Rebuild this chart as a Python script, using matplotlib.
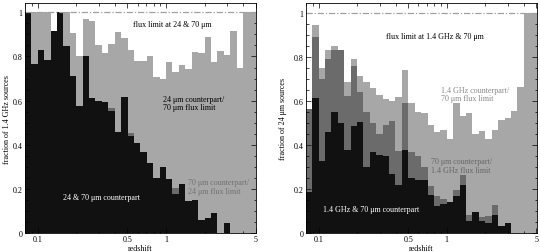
import numpy as np
import matplotlib
matplotlib.use('Agg')
import matplotlib.pyplot as plt
from matplotlib.ticker import FixedLocator, NullFormatter, MultipleLocator

plt.rcParams['font.family'] = ['Liberation Serif', 'DejaVu Serif']
plt.rcParams['font.size'] = 5.8

# log10(z) bin edges of the histograms (0.05 dex bins)
log_z_edges = np.linspace(-1.1, 0.7, 37)

# left panel: fraction of 1.4 GHz sources (cumulative tops of each layer)
left_both = [1.0, 0.766, 0.83, 0.786, 0.914, 1.0, 0.846, 0.71, 0.575, 0.80,
             0.61, 0.60, 0.595, 0.555, 0.457, 0.615, 0.44, 0.41, 0.37, 0.32,
             0.25, 0.30, 0.245, 0.18, 0.225, 0.145, 0.15, 0.06, 0.07, 0.09,
             0.0, 0.045, 0.0, 0.0, 0.0, 0.0]
left_70only = [1.0, 0.766, 0.83, 0.786, 0.914, 1.0, 0.846, 0.71, 0.575, 0.80,
               0.61, 0.60, 0.595, 0.565, 0.457, 0.615, 0.455, 0.41, 0.37, 0.32,
               0.25, 0.30, 0.245, 0.205, 0.225, 0.145, 0.15, 0.06, 0.07, 0.09,
               0.0, 0.045, 0.0, 0.0, 0.0, 0.0]
left_24only = [1.0, 1.0, 1.0, 1.0, 0.914, 1.0, 1.0, 0.906, 0.80, 0.97,
               0.96, 0.85, 0.816, 0.857, 0.909, 0.884, 0.83, 0.78, 0.78, 0.80,
               0.706, 0.698, 0.773, 0.728, 0.763, 0.743, 0.822, 0.818, 0.886, 0.777,
               0.826, 0.807, 0.915, 0.75, 1.0, 1.0]

# right panel: fraction of 24 um sources
right_both = [0.189, 0.613, 0.327, 0.458, 0.549, 0.501, 0.38, 0.486, 0.507, 0.30,
              0.37, 0.355, 0.35, 0.27, 0.22, 0.38, 0.25, 0.24, 0.24, 0.175,
              0.125, 0.135, 0.14, 0.17, 0.22, 0.055, 0.095, 0.055, 0.045, 0.085,
              0.035, 0.045, 0.0, 0.0, 0.0, 0.0]
right_70only = [0.564, 0.89, 0.70, 0.79, 0.834, 0.834, 0.625, 0.76, 0.643, 0.549,
                0.50, 0.451, 0.49, 0.51, 0.375, 0.59, 0.37, 0.35, 0.30, 0.215,
                0.17, 0.155, 0.14, 0.195, 0.265, 0.085, 0.095, 0.075, 0.08, 0.13,
                0.035, 0.045, 0.0, 0.0, 0.0, 0.0]
right_radioonly = [0.564, 0.945, 0.75, 0.83, 0.849, 0.834, 0.688, 0.79, 0.716, 0.685,
                   0.658, 0.628, 0.61, 0.60, 0.62, 0.74, 0.59, 0.55, 0.545, 0.49,
                   0.46, 0.47, 0.43, 0.59, 0.53, 0.545, 0.45, 0.465, 0.43, 0.47,
                   0.515, 0.525, 0.556, 0.665, 1.0, 1.0]

x_ticks = [0.1, 0.5, 1, 5]
x_ticklabels = ['0.1', '0.5', '1', '5']
x_minor = [0.08, 0.09, 0.2, 0.3, 0.4, 0.6, 0.7, 0.8, 0.9, 2, 3, 4]
y_ticks = [0, 0.2, 0.4, 0.6, 0.8, 1.0]
y_ticklabels = ['0', '0.2', '0.4', '0.6', '0.8', '1']

c_black = '#111111'
c_dark = '#6b6b6b'
c_light = '#a7a7a7'

edges = 10 ** log_z_edges

fig = plt.figure(figsize=(5.4, 2.53), dpi=100)
ax1 = fig.add_axes([24.9 / 540, 18.7 / 253, 231 / 540, 230.3 / 253])
ax2 = fig.add_axes([305.7 / 540, 18.7 / 253, 230.9 / 540, 230.3 / 253])


def draw_stack(ax, both, mid, top, c_mid, c_top):
    ax.stairs(top, edges, baseline=0, fill=True, color=c_top, lw=0)
    ax.stairs(mid, edges, baseline=0, fill=True, color=c_mid, lw=0)
    ax.stairs(both, edges, baseline=0, fill=True, color=c_black, lw=0)


draw_stack(ax1, left_both, left_70only, left_24only, c_dark, c_light)
draw_stack(ax2, right_both, right_70only, right_radioonly, c_dark, c_light)

for ax, ytop in [(ax1, 1.042), (ax2, 1.045)]:
    ax.set_xscale('log')
    ax.set_xlim(edges[0], edges[-1])
    ax.set_ylim(0, ytop)
    ax.axhline(1.0, color='#a0a0a0', lw=0.9, ls=(0, (5, 1.5, 1, 1.5)), zorder=5)
    ax.xaxis.set_major_locator(FixedLocator(x_ticks))
    ax.set_xticklabels(x_ticklabels)
    ax.xaxis.set_minor_locator(FixedLocator(x_minor))
    ax.xaxis.set_minor_formatter(NullFormatter())
    ax.set_yticks(y_ticks)
    ax.set_yticklabels(y_ticklabels)
    ax.yaxis.set_minor_locator(MultipleLocator(0.05))
    ax.tick_params(which='both', direction='in', top=True, right=True,
                   width=0.5, labelsize=5.8, pad=1.5, zorder=6)
    ax.tick_params(which='major', length=3.5)
    ax.tick_params(which='minor', length=1.8)
    for s in ax.spines.values():
        s.set_linewidth(0.6)
        s.set_zorder(6)
    ax.set_xlabel('redshift', fontsize=5.8, va='center')
    ax.xaxis.set_label_coords(0.5, -0.062)

ax1.set_ylabel('fraction of 1.4 GHz sources', fontsize=5.8, va='center')
ax1.yaxis.set_label_coords(-0.078, 0.5)
ax2.set_ylabel('fraction of 24 \u03bcm sources', fontsize=5.8, va='center')
ax2.yaxis.set_label_coords(-0.1, 0.5)

# left panel annotations
ax1.text(0.637, 0.909, 'flux limit at 24 & 70 \u03bcm', transform=ax1.transAxes,
         ha='center', va='center', color='black')
ax1.text(0.598, 0.566, '24 \u03bcm counterpart/\n70 \u03bcm flux limit',
         transform=ax1.transAxes, ha='left', va='center', color='black',
         linespacing=1.1)
ax1.text(0.706, 0.202, '70 \u03bcm counterpart/\n24 \u03bcm flux limit',
         transform=ax1.transAxes, ha='left', va='center', color='#727272',
         linespacing=1.1)
ax1.text(0.332, 0.159, '24 & 70 \u03bcm counterpart', transform=ax1.transAxes,
         ha='center', va='center', color='white')

# right panel annotations
ax2.text(0.559, 0.858, 'flux limit at 1.4 GHz & 70 \u03bcm', transform=ax2.transAxes,
         ha='center', va='center', color='black')
ax2.text(0.585, 0.605, '1.4 GHz counterpart/\n70 \u03bcm flux limit',
         transform=ax2.transAxes, ha='left', va='center', color='#8a8a8a',
         linespacing=1.1)
ax2.text(0.543, 0.295, '70 \u03bcm counterpart/\n1.4 GHz flux limit',
         transform=ax2.transAxes, ha='left', va='center', color='#666666',
         linespacing=1.1)
ax2.text(0.284, 0.106, '1.4 GHz & 70 \u03bcm counterpart', transform=ax2.transAxes,
         ha='center', va='center', color='white')

fig.savefig('out.png', dpi=100)
